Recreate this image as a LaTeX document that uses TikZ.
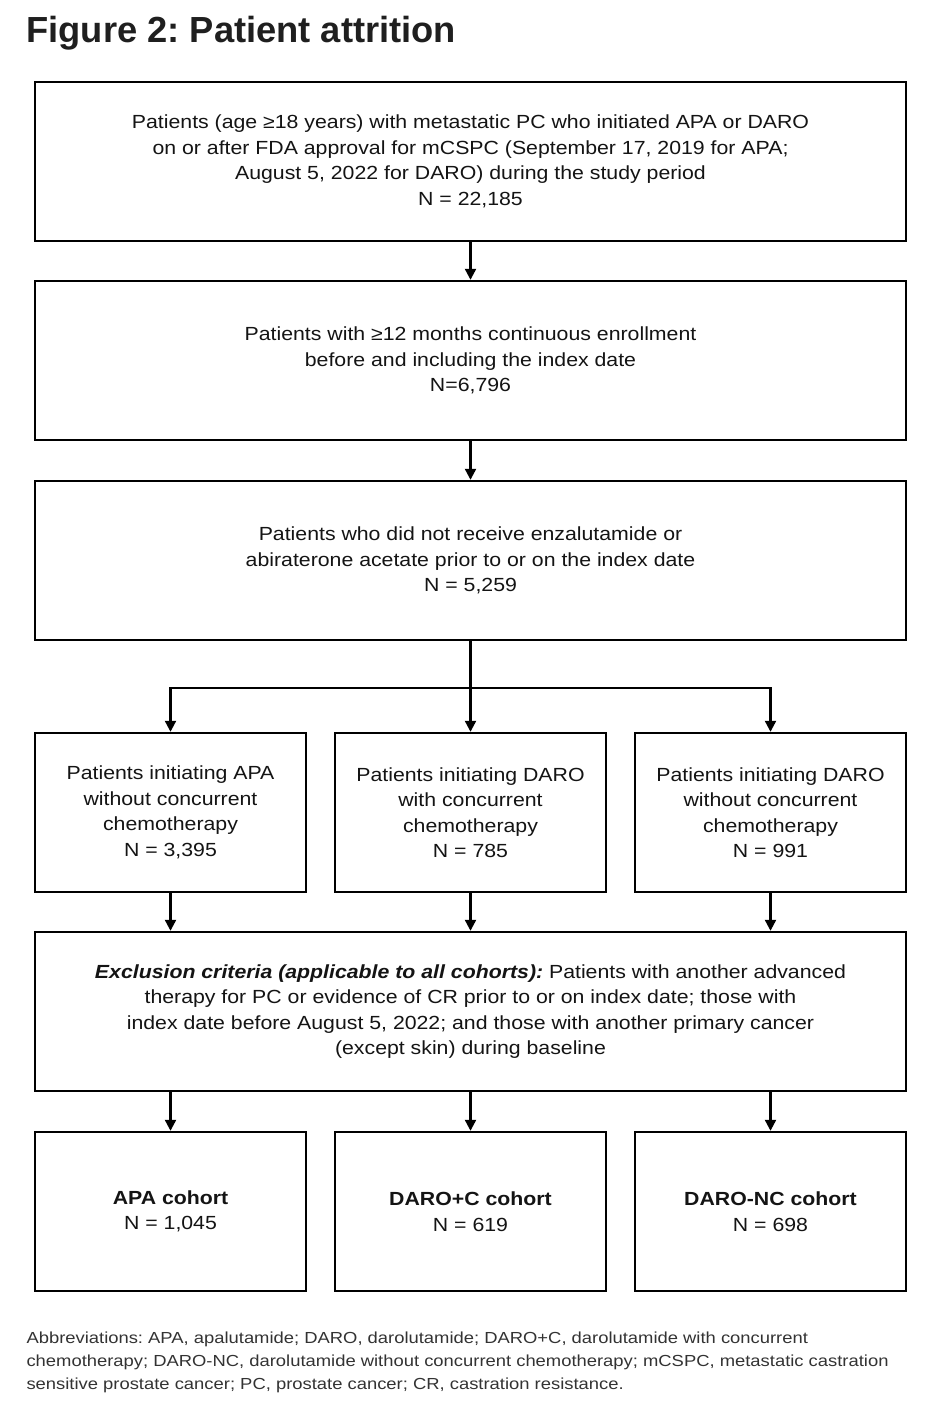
\documentclass[tikz,border=0pt]{standalone}
\usepackage{fontspec}
\setmainfont[FakeStretch=1.12]{Liberation Sans}
\newfontfamily\titlefont{Liberation Sans}
\newfontfamily\abbrfont[FakeStretch=1.15]{Liberation Sans}
\usetikzlibrary{positioning,arrows.meta}
\tikzset{
	box/.style={draw, line width=2.4pt, align=center, inner sep=0pt, text=black!92,
		font=\fontsize{19}{25.5}\selectfont},
	widebox/.style={box, minimum width=871pt, minimum height=159pt},
	smallbox/.style={box, minimum width=271pt, minimum height=159pt},
	arr/.style={line width=2.2pt, -{Triangle[width=11pt,length=11pt]}}
}
\frenchspacing
\begin{document}
\begin{tikzpicture}[x=1pt,y=-1pt]
	\useasboundingbox[fill=white] (0,0) rectangle (938,1410);
	\node[anchor=base west, text=black!88, font=\titlefont\fontsize{36.3}{42}\selectfont\bfseries] (title) at (23,43) {Figure 2: Patient attrition};

	% main column
	\node[widebox] (total) at (470.5,161.5) {Patients (age ≥18 years) with metastatic PC who initiated APA or DARO\\on or after FDA approval for mCSPC (September 17, 2019 for APA;\\August 5, 2022 for DARO) during the study period\\N = 22,185};
	\node[widebox] (enrol) at (470.5,360.5) {Patients with ≥12 months continuous enrollment\\before and including the index date\\N=6,796};
	\node[widebox] (prior) at (470.5,560.5) {Patients who did not receive enzalutamide or\\abiraterone acetate prior to or on the index date\\N = 5,259};

	% three branches
	\node[smallbox] (apa) at (170.5,812.5) {Patients initiating APA\\without concurrent\\chemotherapy\\N = 3,395};
	\node[smallbox] (daroc) at (470.5,812.5) {Patients initiating DARO\\with concurrent\\chemotherapy\\N = 785};
	\node[smallbox] (daronc) at (770.5,812.5) {Patients initiating DARO\\without concurrent\\chemotherapy\\N = 991};

	\node[widebox] (excl) at (470.5,1011.5) {\textbf{\textit{Exclusion criteria (applicable to all cohorts):}} Patients with another advanced\\therapy for PC or evidence of CR prior to or on index date; those with\\index date before August 5, 2022; and those with another primary cancer\\(except skin) during baseline};

	\node[smallbox] (apacoh) at (170.5,1211.5) {\textbf{APA cohort}\\N = 1,045};
	\node[smallbox] (daroccoh) at (470.5,1211.5) {\textbf{DARO+C cohort}\\N = 619};
	\node[smallbox] (daronccoh) at (770.5,1211.5) {\textbf{DARO-NC cohort}\\N = 698};

	\node[anchor=north west, align=left, text=black!80, font=\abbrfont\fontsize{16}{23}\selectfont] (abbr) at (23,1328) {Abbreviations: APA, apalutamide; DARO, darolutamide; DARO+C, darolutamide with concurrent\\chemotherapy; DARO-NC, darolutamide without concurrent chemotherapy; mCSPC, metastatic castration\\sensitive prostate cancer; PC, prostate cancer; CR, castration resistance.};

	% connectors
	\draw[arr] (total) -- (enrol);
	\draw[arr] (enrol) -- (prior);
	\draw[line width=2.2pt] (prior.south) -- ++(0,47) coordinate (split);
	\draw[arr] (split) -| (apa);
	\draw[arr] (split) -| (daronc);
	\draw[arr] (split) -- (daroc);
	\foreach \b in {apa,daroc,daronc}
		\draw[arr] (\b.south) -- (\b.south |- excl.north);
	\draw[arr] (apa.south |- excl.south) -- (apacoh);
	\draw[arr] (daroc.south |- excl.south) -- (daroccoh);
	\draw[arr] (daronc.south |- excl.south) -- (daronccoh);
\end{tikzpicture}
\end{document}
